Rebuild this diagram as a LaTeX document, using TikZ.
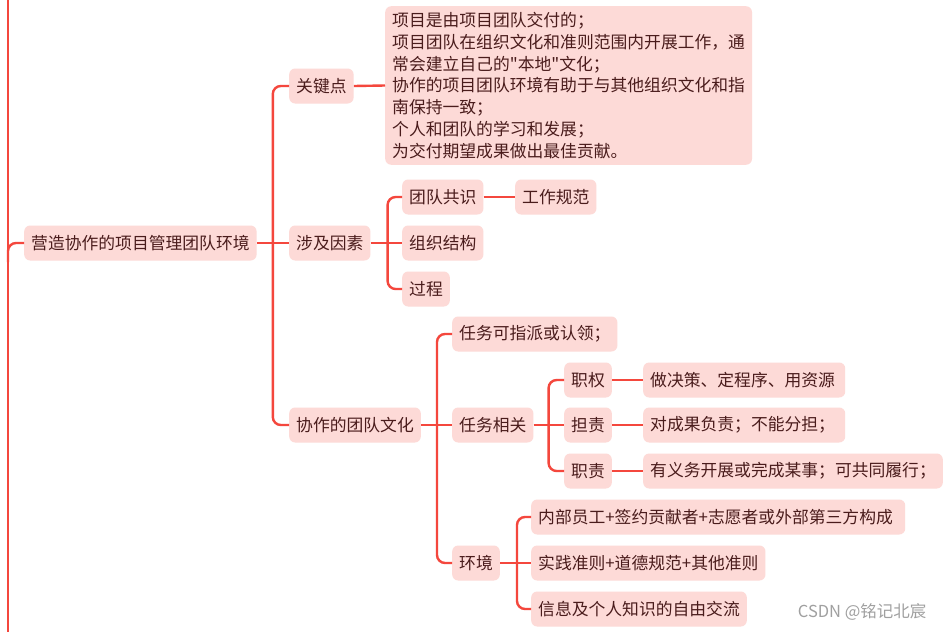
\documentclass[tikz,border=0pt]{standalone}
\usepackage{fontspec}
\setmainfont{Noto Sans CJK SC}[Ligatures=TeXOff]
\definecolor{ln}{HTML}{F4473D}
\definecolor{bx}{HTML}{FDDAD7}
\definecolor{tx}{HTML}{4A1C1C}
\definecolor{wmc}{HTML}{A0A0A0}
\tikzset{
  box/.style={fill=bx, rounded corners=6pt, text=tx, inner xsep=7pt, inner ysep=0pt,
    minimum height=35pt, anchor=west, font=\fontsize{16.8}{21.8}\selectfont},
  tbox/.style={box, align=left, inner ysep=6pt},
  conn/.style={draw=ln, line width=2.4pt, rounded corners=8pt},
}
\begin{document}
\begin{tikzpicture}[x=1pt,y=-1pt]
\useasboundingbox (0,0) rectangle (950,632);
\fill[white] (0,0) rectangle (950,632);

% nodes
\node[box] (root) at (24,243) {营造协作的项目管理团队环境};
\node[box] (kp) at (289,86) {关键点};
\node[tbox] (kpt) at (385,85.5) {项目是由项目团队交付的；\\项目团队在组织文化和准则范围内开展工作，通\\常会建立自己的"本地"文化；\\协作的项目团队环境有助于与其他组织文化和指\\南保持一致；\\个人和团队的学习和发展；\\为交付期望成果做出最佳贡献。};
\node[box] (sj) at (289,243) {涉及因素};
\node[box] (gs) at (402,197) {团队共识};
\node[box] (gf) at (515,197) {工作规范};
\node[box] (zz) at (402,243) {组织结构};
\node[box] (gc) at (402,289) {过程};
\node[box] (wh) at (289,425) {协作的团队文化};
\node[box] (rw1) at (452,334) {任务可指派或认领；};
\node[box] (rw2) at (452,425) {任务相关};
\node[box] (hj) at (452,563) {环境};
\node[box] (zq) at (564,380) {职权};
\node[box] (dz) at (564,425) {担责};
\node[box] (zr) at (564,471) {职责};
\node[box, text width=188pt, align=left] (zq2) at (643,380) {做决策、定程序、用资源};
\node[box, text width=188pt, align=left] (dz2) at (643,425) {对成果负责；不能分担；};
\node[box] (zr2) at (643,471) {有义务开展或完成某事；可共同履行；};
\node[box, text width=360pt, align=left] (h1) at (531,517) {内部员工+签约贡献者+志愿者或外部第三方构成};
\node[box] (h2) at (531,563) {实践准则+道德规范+其他准则};
\node[box] (h3) at (531,609) {信息及个人知识的自由交流};
\node[font=\fontsize{16.5}{16.5}\selectfont, text=wmc, anchor=east] (wm) at (930,612) {CSDN @铭记北宸};

% trunk
\coordinate (tt) at (8,0);
\coordinate (tb) at (8,632);
\draw[conn] (tt) -- (tb);
\coordinate (tr) at (8,262);
\draw[conn] (tr) |- (root.west);

% root -> level 1
\coordinate (b1) at ([xshift=16pt]root.east);
\draw[conn] (root.east) -- (sj.west);
\draw[conn] (b1) |- (kp.west);
\draw[conn] (b1) |- (wh.west);

% 关键点
\draw[conn] (kp.east) -- (kpt.west);

% 涉及因素
\coordinate (b2) at ([xshift=17pt]sj.east);
\draw[conn] (sj.east) -- (zz.west);
\draw[conn] (b2) |- (gs.west);
\draw[conn] (b2) |- (gc.west);
\draw[conn] (gs.east) -- (gf.west);

% 协作的团队文化
\coordinate (b3) at ([xshift=16pt]wh.east);
\draw[conn] (wh.east) -- (rw2.west);
\draw[conn] (b3) |- (rw1.west);
\draw[conn] (b3) |- (hj.west);

% 任务相关
\coordinate (b4) at ([xshift=15pt]rw2.east);
\draw[conn] (rw2.east) -- (dz.west);
\draw[conn] (b4) |- (zq.west);
\draw[conn] (b4) |- (zr.west);
\draw[conn] (zq.east) -- (zq2.west);
\draw[conn] (dz.east) -- (dz2.west);
\draw[conn] (zr.east) -- (zr2.west);

% 环境
\coordinate (b5) at ([xshift=17pt]hj.east);
\draw[conn] (hj.east) -- (h2.west);
\draw[conn] (b5) |- (h1.west);
\draw[conn] (b5) |- (h3.west);
\end{tikzpicture}
\end{document}
